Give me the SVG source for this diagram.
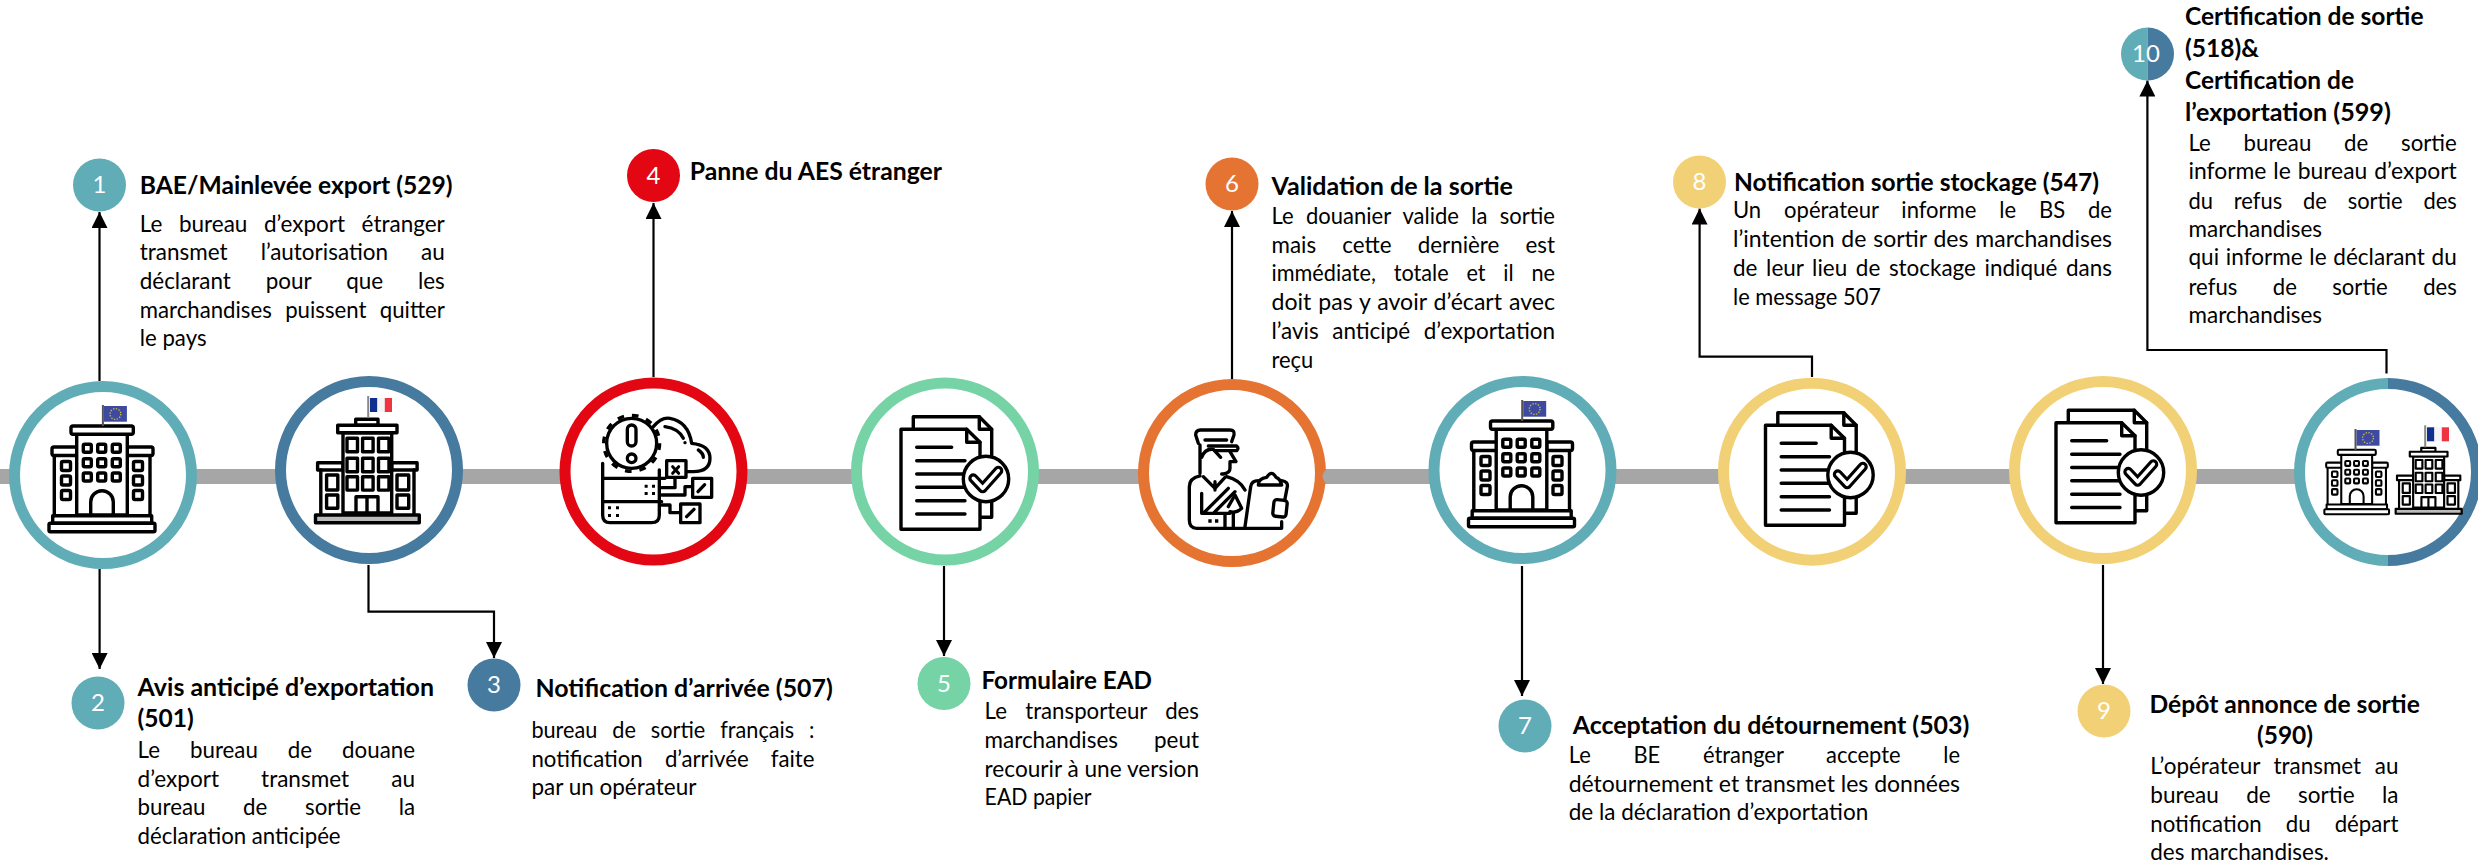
<svg xmlns="http://www.w3.org/2000/svg" width="2478" height="865" viewBox="0 0 2478 865">
<style>
text{font-family:"Lato","Open Sans",sans-serif;fill:#000}
.t{font-size:23px}
.h{font-size:25px;font-weight:700}
.n{font-size:24px;fill:#fff;text-anchor:middle}
.ring{fill:#fff;stroke-width:11}
.ic{fill:none;stroke:#000;stroke-width:3.4;stroke-linejoin:round;stroke-linecap:round}
.ic .w,.w{fill:#fff}
.z{fill:none;stroke:#000;stroke-width:10;stroke-linejoin:round;stroke-linecap:round}
.k{fill:#000;stroke:none}
.con{fill:none;stroke:#000;stroke-width:2.2;marker-end:url(#ah)}
.teal{stroke:#60adb7}.blue{stroke:#467a9e}.red{stroke:#e30613}.green{stroke:#75d3a5}.orange{stroke:#e57332}.yellow{stroke:#f2d176}
</style>
<defs>
<marker id="ah" markerUnits="userSpaceOnUse" markerWidth="16" markerHeight="16" refX="16" refY="8" orient="auto"><path d="M0,0L16,8L0,16Z" fill="#000"/></marker>
<g id="flagEU">
<rect x="-.8" y="-1" width="2" height="21" fill="#555"/>
<rect x="1.2" y="0" width="23" height="15.7" fill="#3d4a9f"/>
<circle cx="12.7" cy="8" r="5.4" fill="none" stroke="#c8b64a" stroke-width="1.4" stroke-dasharray="1.4 1.4"/>
</g>
<g id="flagFR">
<rect x="-.8" y="-2" width="2" height="22" fill="#888"/>
<rect x="2" y="0" width="7.4" height="14" fill="#0f2e8f"/>
<rect x="9.4" y="0" width="7.4" height="14" fill="#f4f4f6"/>
<rect x="16.8" y="0" width="7.2" height="14" fill="#ef3340"/>
</g>
<g id="bldEU" class="ic">
<rect x="-51" y="-28" width="25.7" height="8.5" rx="2" class="w"/>
<rect x="24.3" y="-28" width="25.7" height="8.5" rx="2" class="w"/>
<path d="M-48.7,40V-19.3M47,40V-19.3"/>
<rect x="-26.3" y="-41" width="50.6" height="81" class="w"/>
<rect x="-32" y="-49" width="62.3" height="8.3" rx="2" class="w"/>
<rect x="-19.7" y="-30.7" width="8" height="8" rx="1.5"/><rect x="-5.3" y="-30.7" width="8" height="8" rx="1.5"/><rect x="9.3" y="-30.7" width="8" height="8" rx="1.5"/>
<rect x="-19.7" y="-16.3" width="8" height="8" rx="1.5"/><rect x="-5.3" y="-16.3" width="8" height="8" rx="1.5"/><rect x="9.3" y="-16.3" width="8" height="8" rx="1.5"/>
<rect x="-19.7" y="-2" width="8" height="8" rx="1.5"/><rect x="-5.3" y="-2" width="8" height="8" rx="1.5"/><rect x="9.3" y="-2" width="8" height="8" rx="1.5"/>
<rect x="-41.5" y="-13.5" width="9" height="9" rx="1.5"/><rect x="-41.5" y="1" width="9" height="9" rx="1.5"/><rect x="-41.5" y="15.5" width="9" height="9" rx="1.5"/>
<rect x="30.5" y="-13.5" width="9" height="9" rx="1.5"/><rect x="30.5" y="1" width="9" height="9" rx="1.5"/><rect x="30.5" y="15.5" width="9" height="9" rx="1.5"/>
<path d="M-12.3,40V27a11.3,11.3 0 0 1 22.6,0V40"/>
<rect x="-50.3" y="40.7" width="99" height="7.6" class="w"/>
<rect x="-54" y="48.3" width="106" height="8.4" rx="1.5" class="w"/>
</g>
<g id="bldFR" class="ic">
<rect x="-51.4" y="-7.3" width="25.4" height="7.3" class="w"/>
<rect x="22.7" y="-7.3" width="25.4" height="7.3" class="w"/>
<path d="M-48.2,43V0M45,43V0"/>
<rect x="-26" y="-37.3" width="48.7" height="80.3" class="w"/>
<rect x="-13.3" y="-50.7" width="22.3" height="6" class="w"/>
<rect x="-31.3" y="-44.7" width="59.3" height="7.4" class="w"/>
<rect x="-22" y="-31.7" width="10.5" height="13.4"/><rect x="-6.4" y="-31.7" width="10.5" height="13.4"/><rect x="9.5" y="-31.7" width="10.5" height="13.4"/>
<rect x="-22" y="-11.7" width="10.5" height="13.4"/><rect x="-6.4" y="-11.7" width="10.5" height="13.4"/><rect x="9.5" y="-11.7" width="10.5" height="13.4"/>
<rect x="-22" y="6.7" width="10.5" height="13.4"/><rect x="-6.4" y="6.7" width="10.5" height="13.4"/><rect x="9.5" y="6.7" width="10.5" height="13.4"/>
<rect x="-42.4" y="5" width="11.2" height="15"/><rect x="-42.4" y="25" width="11.2" height="13.3"/>
<rect x="28" y="5" width="11.7" height="15"/><rect x="28" y="25" width="11.7" height="13.3"/>
<path d="M-13,43V26.7H9V43M-2,26.7V43"/>
<rect x="-53.5" y="45" width="103.8" height="7.7" fill="#bbb"/>
</g>
<g id="doc" class="ic">
<path d="M-31.7,-43.2V-54.8H34.3L46.7,-42.2V45.8H35" class="w"/>
<path d="M34.3,-54.8V-42.2H46.7"/>
<path d="M-44,-42.2H21.7L35,-29.2V57.8H-44Z" class="w"/>
<path d="M21.7,-42.2V-29.2H35"/>
<path d="M-28.3,-24.2H6.7M-28.3,-10.8H20M-28.3,2.5H20M-28.3,15.8H20M-28.3,29.2H20M-28.3,42.5H20"/>
<circle cx="41" cy="7.5" r="22.7" class="w"/>
<path d="M28.3,6.8L37.7,16.8L53.3,-.8" stroke-width="10"/>
<path d="M28.3,6.8L37.7,16.8L53.3,-.8" stroke="#fff" stroke-width="3.6"/>
</g>
</defs>

<g id="timeline">
<rect x="0" y="469" width="2478" height="15" fill="#a6a6a6"/>
</g>

<g id="connectors">
<path class="con" d="M99.5,381V212"/>
<path class="con" d="M99.6,569V669"/>
<path class="con" d="M368.5,565V611.7H494V658"/>
<path class="con" d="M653.5,377V203"/>
<path class="con" d="M944,566V656"/>
<path class="con" d="M1232,379V211"/>
<path class="con" d="M1522,566V696"/>
<path class="con" d="M1812,377V356.6H1699.6V208.6"/>
<path class="con" d="M2103,565V684"/>
<path class="con" d="M2386.5,373.6V350H2147.4V80.6"/>
</g>

<g id="node-1">
<circle class="ring teal" cx="103" cy="475" r="88.5"/>
<use href="#bldEU" transform="translate(103,475)"/>
<use href="#flagEU" transform="translate(102.7,406)"/>
<circle cx="99.5" cy="185" r="26.5" fill="#60adb7"/>
<text class="n" x="99.5" y="193">1</text>
<text class="h" x="139.8" y="194" textLength="312.8" lengthAdjust="spacingAndGlyphs">BAE/Mainlevée export (529)</text>
<text class="t" x="139.8" y="231.7" textLength="305" lengthAdjust="spacingAndGlyphs" style="word-spacing:11px">Le bureau d’export étranger</text>
<text class="t" x="139.8" y="260.3" textLength="305" lengthAdjust="spacingAndGlyphs" style="word-spacing:28px">transmet l’autorisation au</text>
<text class="t" x="139.8" y="288.7" textLength="305" lengthAdjust="spacingAndGlyphs" style="word-spacing:30px">déclarant pour que les</text>
<text class="t" x="139.8" y="317.7" textLength="305" lengthAdjust="spacingAndGlyphs" style="word-spacing:8px">marchandises puissent quitter</text>
<text class="t" x="139.8" y="346" textLength="66.7" lengthAdjust="spacingAndGlyphs">le pays</text>
</g>

<g id="node-2">
<circle cx="98" cy="703" r="26.5" fill="#60adb7"/>
<text class="n" x="98" y="711">2</text>
<text class="h" x="137.6" y="695.7" textLength="296.4" lengthAdjust="spacingAndGlyphs">Avis anticipé d’exportation</text>
<text class="h" x="137.6" y="727.3" textLength="56.2" lengthAdjust="spacingAndGlyphs">(501)</text>
<text class="t" x="137.6" y="758" textLength="277.4" lengthAdjust="spacingAndGlyphs" style="word-spacing:25px">Le bureau de douane</text>
<text class="t" x="137.6" y="787" textLength="277.4" lengthAdjust="spacingAndGlyphs" style="word-spacing:37px">d’export transmet au</text>
<text class="t" x="137.6" y="815.3" textLength="277.4" lengthAdjust="spacingAndGlyphs" style="word-spacing:33px">bureau de sortie la</text>
<text class="t" x="137.6" y="844" textLength="203" lengthAdjust="spacingAndGlyphs">déclaration anticipée</text>
</g>

<g id="node-3">
<circle class="ring blue" cx="369" cy="470" r="88.5"/>
<use href="#bldFR" transform="translate(369,470)"/>
<use href="#flagFR" transform="translate(368,398)"/>
<circle cx="494" cy="685" r="26.5" fill="#467a9e"/>
<text class="n" x="494" y="693">3</text>
<text class="h" x="535.4" y="697.3" textLength="297.4" lengthAdjust="spacingAndGlyphs">Notification d’arrivée (507)</text>
<text class="t" x="531.4" y="738" textLength="283.1" lengthAdjust="spacingAndGlyphs" style="word-spacing:10px">bureau de sortie français :</text>
<text class="t" x="531.4" y="766.7" textLength="283.1" lengthAdjust="spacingAndGlyphs" style="word-spacing:17px">notification d’arrivée faite</text>
<text class="t" x="531.4" y="795" textLength="165" lengthAdjust="spacingAndGlyphs">par un opérateur</text>
</g>

<g id="node-4">
<circle class="ring red" cx="653.5" cy="471.5" r="88.5"/>
<g class="z" transform="translate(550,370) scale(.3333)">
<path d="M310,170Q335,140 360,145Q415,155 425,220Q480,225 480,265Q480,305 430,305H410"/>
<path d="M345,170Q385,175 400,205M445,240Q460,250 460,262"/>
<circle class="k" cx="405" cy="218" r="5"/>
<path d="M158,280V435Q158,458 180,458H305Q328,458 328,435V300"/>
<path d="M158,325H345M158,395H335"/>
<circle cx="245" cy="220" r="75" class="w"/>
<circle cx="245" cy="220" r="84" stroke-dasharray="20 24" stroke-linecap="butt"/>
<rect x="232" y="165" width="26" height="63" rx="13"/>
<circle cx="245" cy="265" r="13"/>
<path class="k" d="M284,344h9v9h-9zM306,344h9v9h-9zM284,366h9v9h-9zM306,366h9v9h-9zM174,409h9v9h-9zM198,409h9v9h-9zM174,432h9v9h-9zM198,432h9v9h-9z"/>
<path d="M335,353H375V322M335,375H405V350H428M335,405H360V428H392"/>
<rect x="350" y="272" width="58" height="50" class="w"/>
<path d="M368,290L386,310M386,290L368,310" stroke-width="9"/>
<rect x="428" y="325" width="57" height="57" class="w"/>
<path d="M444,365L464,344"/>
<rect x="392" y="402" width="58" height="56" class="w"/>
<path d="M410,440L432,418"/>
</g>
<circle cx="653.5" cy="175.5" r="26.5" fill="#e30613"/>
<text class="n" x="653.5" y="184">4</text>
<text class="h" x="689.8" y="180" textLength="252.2" lengthAdjust="spacingAndGlyphs">Panne du AES étranger</text>
</g>

<g id="node-5">
<circle class="ring green" cx="945" cy="471.5" r="88.5"/>
<use href="#doc" transform="translate(945,471.5)"/>
<circle cx="944" cy="683.5" r="26.5" fill="#75d3a5"/>
<text class="n" x="944" y="692">5</text>
<text class="h" x="981.4" y="688.7" textLength="170.6" lengthAdjust="spacingAndGlyphs">Formulaire EAD</text>
<text class="t" x="984.6" y="718.7" textLength="214.4" lengthAdjust="spacingAndGlyphs" style="word-spacing:13px">Le transporteur des</text>
<text class="t" x="984.6" y="748" textLength="214.4" lengthAdjust="spacingAndGlyphs" style="word-spacing:31px">marchandises peut</text>
<text class="t" x="984.6" y="776.7" textLength="214.4" lengthAdjust="spacingAndGlyphs">recourir à une version</text>
<text class="t" x="984.6" y="805.3" textLength="106.8" lengthAdjust="spacingAndGlyphs">EAD papier</text>
</g>

<g id="node-6">
<circle class="ring orange" cx="1232" cy="473" r="88.5"/>
<g class="z" transform="translate(1130,370) scale(.3333)">
<path d="M205,220L197,195Q197,180 212,180H300Q315,180 312,195L305,215"/>
<path d="M225,210H290M235,228H320Q328,235 320,242H255"/>
<path d="M210,225V310M300,245L318,275H300V295Q300,310 280,312H275M215,262Q225,235 250,238L272,262"/>
<path d="M210,318Q178,325 178,350V450Q178,475 200,475H455V455"/>
<path d="M220,320L255,355L285,322M255,335V360M225,425L295,355M250,430L315,365M215,370V430H300M290,320Q330,330 345,360M285,430V475M310,430V475"/>
<path class="k" d="M235,448h10v10h-10zM255,448h10v10h-10z"/>
<path d="M295,410L315,375L335,415Q320,430 300,425"/>
<path d="M345,470L362,350Q365,332 385,332M385,345Q385,325 410,322Q425,298 438,322Q450,325 455,345ZM455,332Q475,335 472,350L464,392"/>
<rect x="430" y="390" width="40" height="50" rx="9" transform="rotate(6 450 415)"/>
</g>
<circle cx="1232" cy="184" r="26.5" fill="#e57332"/>
<text class="n" x="1232" y="192">6</text>
<text class="h" x="1271.5" y="195" textLength="241.5" lengthAdjust="spacingAndGlyphs">Validation de la sortie</text>
<text class="t" x="1271.5" y="224.3" textLength="283.5" lengthAdjust="spacingAndGlyphs" style="word-spacing:7px">Le douanier valide la sortie</text>
<text class="t" x="1271.5" y="253" textLength="283.5" lengthAdjust="spacingAndGlyphs" style="word-spacing:21px">mais cette dernière est</text>
<text class="t" x="1271.5" y="281.3" textLength="283.5" lengthAdjust="spacingAndGlyphs" style="word-spacing:13px">immédiate, totale et il ne</text>
<text class="t" x="1271.5" y="310.3" textLength="283.5" lengthAdjust="spacingAndGlyphs" style="word-spacing:1px">doit pas y avoir d’écart avec</text>
<text class="t" x="1271.5" y="339" textLength="283.5" lengthAdjust="spacingAndGlyphs" style="word-spacing:8px">l’avis anticipé d’exportation</text>
<text class="t" x="1271.5" y="367.7" textLength="41.8" lengthAdjust="spacingAndGlyphs">reçu</text>
<rect x="1322.5" y="469" width="30" height="15" rx="7.5" fill="#a6a6a6"/>
</g>

<g id="node-7">
<circle class="ring teal" cx="1522.5" cy="470" r="88.5"/>
<use href="#bldEU" transform="translate(1522.5,470)"/>
<use href="#flagEU" transform="translate(1522,401)"/>
<circle cx="1525" cy="726" r="26.5" fill="#60adb7"/>
<text class="n" x="1525" y="734">7</text>
<text class="h" x="1572.7" y="734" textLength="396.7" lengthAdjust="spacingAndGlyphs">Acceptation du détournement (503)</text>
<text class="t" x="1568.7" y="763" textLength="391.3" lengthAdjust="spacingAndGlyphs" style="word-spacing:39px">Le BE étranger accepte le</text>
<text class="t" x="1568.7" y="792" textLength="391.3" lengthAdjust="spacingAndGlyphs">détournement et transmet les données</text>
<text class="t" x="1568.7" y="820" textLength="299.5" lengthAdjust="spacingAndGlyphs">de la déclaration d’exportation</text>
</g>

<g id="node-8">
<circle class="ring yellow" cx="1812" cy="471.7" r="88.5"/>
<use href="#doc" transform="translate(1809.5,467.5)"/>
<circle cx="1699.5" cy="182" r="26.5" fill="#f2d176"/>
<text class="n" x="1699.5" y="190">8</text>
<text class="h" x="1734" y="190.5" textLength="365" lengthAdjust="spacingAndGlyphs">Notification sortie stockage (547)</text>
<text class="t" x="1733" y="218.3" textLength="379" lengthAdjust="spacingAndGlyphs" style="word-spacing:18px">Un opérateur informe le BS de</text>
<text class="t" x="1733" y="247" textLength="379" lengthAdjust="spacingAndGlyphs" style="word-spacing:1px">l’intention de sortir des marchandises</text>
<text class="t" x="1733" y="276.4" textLength="379" lengthAdjust="spacingAndGlyphs" style="word-spacing:3px">de leur lieu de stockage indiqué dans</text>
<text class="t" x="1733" y="305.2" textLength="148" lengthAdjust="spacingAndGlyphs">le message 507</text>
</g>

<g id="node-9">
<circle class="ring yellow" cx="2103" cy="470" r="88.5"/>
<use href="#doc" transform="translate(2100,465)"/>
<circle cx="2104" cy="711" r="26.5" fill="#f2d176"/>
<text class="n" x="2104" y="719">9</text>
<text class="h" x="2149.5" y="712.7" textLength="270.3" lengthAdjust="spacingAndGlyphs">Dépôt annonce de sortie</text>
<text class="h" x="2257" y="744.3" textLength="56" lengthAdjust="spacingAndGlyphs">(590)</text>
<text class="t" x="2150.3" y="774.3" textLength="248.1" lengthAdjust="spacingAndGlyphs" style="word-spacing:8px">L’opérateur transmet au</text>
<text class="t" x="2150.3" y="803.3" textLength="248.1" lengthAdjust="spacingAndGlyphs" style="word-spacing:22px">bureau de sortie la</text>
<text class="t" x="2150.3" y="832" textLength="248.1" lengthAdjust="spacingAndGlyphs" style="word-spacing:19px">notification du départ</text>
<text class="t" x="2150.3" y="860" textLength="178.6" lengthAdjust="spacingAndGlyphs">des marchandises.</text>
</g>

<g id="node-10">
<circle cx="2388" cy="472" r="88.5" fill="#fff"/>
<path d="M2388,383.5A88.5,88.5 0 0 0 2388,560.5" fill="none" stroke="#60adb7" stroke-width="11"/>
<path d="M2388,383.5A88.5,88.5 0 0 1 2388,560.5" fill="none" stroke="#467a9e" stroke-width="11"/>
<use href="#bldEU" transform="translate(2357.3,479.7) scale(.61)"/>
<use href="#flagEU" transform="translate(2355.3,430)"/>
<use href="#bldFR" transform="translate(2429.7,480.2) scale(.636)"/>
<use href="#flagFR" transform="translate(2425,427.3)"/>
<path d="M2147.5,27.5A26.5,26.5 0 0 0 2147.5,80.5Z" fill="#60adb7"/>
<path d="M2147.5,27.5A26.5,26.5 0 0 1 2147.5,80.5Z" fill="#467a9e"/>
<text class="n" x="2146" y="62">10</text>
<text class="h" x="2185" y="25" textLength="238.5" lengthAdjust="spacingAndGlyphs">Certification de sortie</text>
<text class="h" x="2185" y="57.3" textLength="74" lengthAdjust="spacingAndGlyphs">(518)&amp;</text>
<text class="h" x="2185" y="89" textLength="169" lengthAdjust="spacingAndGlyphs">Certification de</text>
<text class="h" x="2185" y="121" textLength="205.8" lengthAdjust="spacingAndGlyphs">l’exportation (599)</text>
<text class="t" x="2188.5" y="150.6" textLength="268.3" lengthAdjust="spacingAndGlyphs" style="word-spacing:28px">Le bureau de sortie</text>
<text class="t" x="2188.5" y="179.4" textLength="268.3" lengthAdjust="spacingAndGlyphs" style="word-spacing:1px">informe le bureau d’export</text>
<text class="t" x="2188.5" y="208.7" textLength="268.3" lengthAdjust="spacingAndGlyphs" style="word-spacing:16px">du refus de sortie des</text>
<text class="t" x="2188.5" y="236.8" textLength="133.6" lengthAdjust="spacingAndGlyphs">marchandises</text>
<text class="t" x="2188.5" y="265" textLength="268.3" lengthAdjust="spacingAndGlyphs" style="word-spacing:1px">qui informe le déclarant du</text>
<text class="t" x="2188.5" y="294.5" textLength="268.3" lengthAdjust="spacingAndGlyphs" style="word-spacing:31px">refus de sortie des</text>
<text class="t" x="2188.5" y="323.3" textLength="133.6" lengthAdjust="spacingAndGlyphs">marchandises</text>
</g>
</svg>
